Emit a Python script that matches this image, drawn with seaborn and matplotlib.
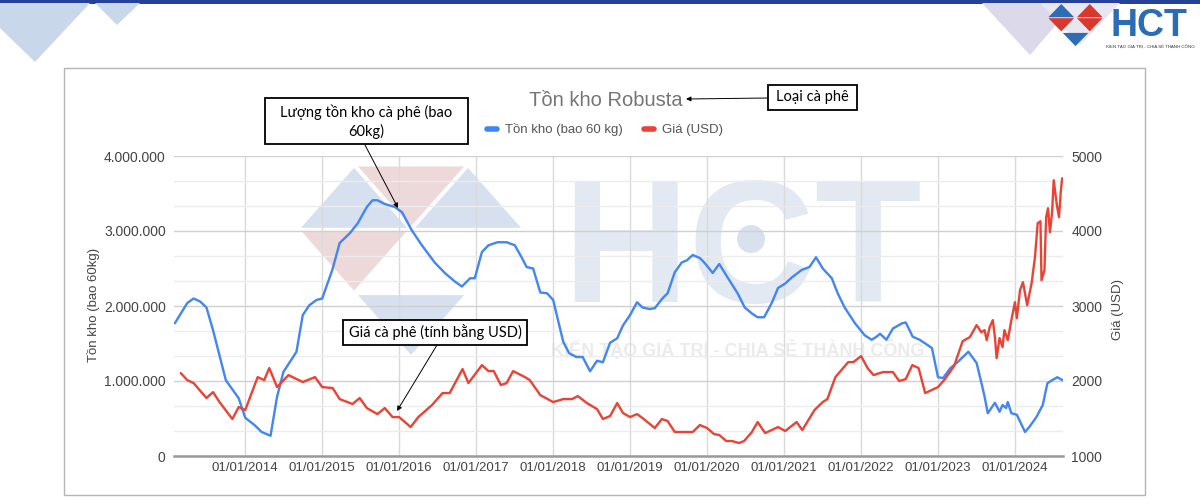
import numpy as np
import pandas as pd
import matplotlib
matplotlib.use("Agg")
import matplotlib.pyplot as plt
import matplotlib.ticker as mticker
from matplotlib.patches import Polygon, Rectangle, Circle
from matplotlib.lines import Line2D
import seaborn as sns

# ---------------- data ----------------
stock_dates = [
    "2013-02-01", "2013-04-01", "2013-05-01", "2013-06-01", "2013-07-01", "2013-08-01",
    "2013-10-01", "2013-12-01", "2014-01-01", "2014-02-15", "2014-03-20", "2014-05-01",
    "2014-06-01", "2014-07-01", "2014-09-01", "2014-10-01", "2014-11-01", "2014-12-05",
    "2015-01-01", "2015-02-18", "2015-03-25", "2015-05-12", "2015-06-18", "2015-08-01",
    "2015-08-28", "2015-09-20", "2015-10-25", "2015-12-12", "2016-01-15", "2016-03-01",
    "2016-04-18", "2016-06-18", "2016-08-05", "2016-09-20", "2016-10-25", "2016-12-03",
    "2016-12-25", "2017-01-28", "2017-02-28", "2017-04-12", "2017-05-25", "2017-07-03",
    "2017-08-06", "2017-08-28", "2017-09-28", "2017-11-01", "2017-12-03", "2018-01-01",
    "2018-02-18", "2018-03-18", "2018-04-21", "2018-05-21", "2018-06-25", "2018-07-28",
    "2018-08-25", "2018-09-28", "2018-11-01", "2018-11-28", "2019-01-01", "2019-02-03",
    "2019-03-01", "2019-04-03", "2019-04-28", "2019-06-03", "2019-06-28", "2019-08-01",
    "2019-09-03", "2019-09-28", "2019-10-25", "2019-11-28", "2019-12-22", "2020-01-28",
    "2020-02-28", "2020-04-10", "2020-05-25", "2020-06-28", "2020-08-01", "2020-08-28",
    "2020-09-28", "2020-11-03", "2020-12-03", "2021-01-06", "2021-02-06", "2021-03-25",
    "2021-05-01", "2021-06-01", "2021-07-03", "2021-08-15", "2021-09-12", "2021-10-15",
    "2021-12-03", "2022-01-18", "2022-02-20", "2022-03-15", "2022-04-01", "2022-05-01",
    "2022-06-01", "2022-07-15", "2022-08-01", "2022-09-03", "2022-10-06", "2022-12-03",
    "2023-01-01", "2023-01-25", "2023-02-28", "2023-04-03", "2023-05-25", "2023-07-03",
    "2023-07-28", "2023-08-10", "2023-08-25", "2023-09-28", "2023-10-20", "2023-11-03",
    "2023-11-20", "2023-11-28", "2023-12-15", "2024-01-10", "2024-02-18", "2024-03-10",
    "2024-04-12", "2024-05-12", "2024-06-03", "2024-06-25", "2024-07-20", "2024-08-15",
]
stock_values = [
    1770000, 2040000, 2100000, 2060000, 1980000, 1680000,
    1010000, 770000, 510000, 410000, 320000, 270000,
    790000, 1120000, 1390000, 1880000, 2010000, 2080000,
    2100000, 2480000, 2840000, 2970000, 3100000, 3320000,
    3410000, 3410000, 3360000, 3320000, 3250000, 3010000,
    2810000, 2580000, 2440000, 2330000, 2260000, 2370000,
    2370000, 2720000, 2810000, 2850000, 2850000, 2810000,
    2640000, 2520000, 2500000, 2180000, 2170000, 2080000,
    1520000, 1370000, 1320000, 1320000, 1130000, 1270000,
    1250000, 1510000, 1570000, 1740000, 1880000, 2050000,
    1980000, 1960000, 1970000, 2100000, 2170000, 2450000,
    2580000, 2610000, 2680000, 2640000, 2570000, 2440000,
    2560000, 2370000, 2170000, 1980000, 1900000, 1850000,
    1850000, 2040000, 2240000, 2300000, 2380000, 2480000,
    2520000, 2650000, 2500000, 2370000, 2170000, 1980000,
    1770000, 1610000, 1550000, 1590000, 1630000, 1550000,
    1700000, 1770000, 1780000, 1590000, 1550000, 1440000,
    1050000, 1040000, 1170000, 1250000, 1390000, 1240000,
    950000, 790000, 570000, 710000, 590000, 680000,
    640000, 720000, 570000, 550000, 320000, 390000,
    520000, 680000, 970000, 1010000, 1050000, 1010000,
]

price_dates = [
    "2013-03-01", "2013-04-01", "2013-05-01", "2013-07-01", "2013-08-01", "2013-09-01",
    "2013-11-01", "2013-12-01", "2014-01-01", "2014-03-01", "2014-04-01", "2014-04-25",
    "2014-06-01", "2014-07-25", "2014-10-01", "2014-11-28", "2015-01-01", "2015-02-20",
    "2015-03-25", "2015-05-12", "2015-05-25", "2015-06-28", "2015-08-01", "2015-09-20",
    "2015-10-25", "2015-12-01", "2016-01-01", "2016-02-25", "2016-04-01", "2016-06-05",
    "2016-07-25", "2016-08-28", "2016-10-28", "2016-11-25", "2017-01-28", "2017-02-28",
    "2017-03-25", "2017-04-28", "2017-05-25", "2017-06-25", "2017-08-20", "2017-09-12",
    "2017-11-01", "2018-01-01", "2018-02-18", "2018-04-01", "2018-04-28", "2018-06-10",
    "2018-07-28", "2018-08-25", "2018-09-28", "2018-11-01", "2018-11-28", "2019-01-01",
    "2019-02-03", "2019-03-01", "2019-04-28", "2019-06-01", "2019-06-28", "2019-08-01",
    "2019-10-25", "2019-11-28", "2020-01-01", "2020-02-03", "2020-02-28", "2020-04-01",
    "2020-04-28", "2020-06-01", "2020-06-25", "2020-08-01", "2020-08-28", "2020-10-03",
    "2020-12-03", "2021-01-06", "2021-03-01", "2021-03-28", "2021-05-25", "2021-07-03",
    "2021-07-25", "2021-09-01", "2021-11-01", "2021-11-25", "2022-01-01", "2022-02-01",
    "2022-03-01", "2022-04-15", "2022-06-01", "2022-07-01", "2022-08-01", "2022-09-01",
    "2022-10-01", "2022-11-01", "2023-01-01", "2023-02-03", "2023-03-18", "2023-04-28",
    "2023-06-01", "2023-07-03", "2023-07-25", "2023-08-10", "2023-08-20", "2023-09-03",
    "2023-09-18", "2023-09-28", "2023-10-06", "2023-10-20", "2023-11-03", "2023-11-12",
    "2023-11-28", "2023-12-15", "2024-01-01", "2024-01-10", "2024-01-25", "2024-02-08",
    "2024-02-28", "2024-03-20", "2024-04-05", "2024-04-18", "2024-05-01", "2024-05-06",
    "2024-05-20", "2024-05-28", "2024-06-06", "2024-06-15", "2024-06-25", "2024-07-03",
    "2024-07-18", "2024-07-28", "2024-08-06", "2024-08-12",
]
price_values = [
    2106, 2012, 1972, 1773, 1852, 1719,
    1493, 1653, 1613, 2052, 2012, 2172,
    1919, 2079, 1986, 2052, 1919, 1906,
    1759, 1706, 1693, 1773, 1639, 1559,
    1639, 1519, 1519, 1386, 1519, 1679,
    1839, 1839, 2159, 1972, 2212, 2132,
    2132, 1946, 1972, 2132, 2052, 2012,
    1812, 1719, 1759, 1759, 1799, 1706,
    1626, 1493, 1533, 1706, 1573, 1519,
    1559, 1506, 1373, 1493, 1466, 1320,
    1320, 1413, 1373, 1293, 1280, 1200,
    1200, 1173, 1200, 1320, 1453, 1306,
    1386, 1333, 1453, 1346, 1613, 1719,
    1759, 2052, 2252, 2252, 2332, 2172,
    2079, 2119, 2119, 1999, 2026, 2212,
    2172, 1839, 1919, 2026, 2199, 2532,
    2585, 2745, 2652, 2678, 2545, 2718,
    2812, 2585, 2305, 2572, 2452, 2678,
    2545, 2812, 3051, 2838, 3211, 3318,
    3011, 3304, 3651, 4104, 4130, 3344,
    3478, 4184, 4303, 3984, 4237, 4676,
    4343, 4184, 4543, 4703,
]

x_tick_dates = ["2014-01-01", "2015-01-01", "2016-01-01", "2017-01-01", "2018-01-01",
                "2019-01-01", "2020-01-01", "2021-01-01", "2022-01-01", "2023-01-01",
                "2024-01-01"]
left_ticks = [0, 1000000, 2000000, 3000000, 4000000]
right_ticks = [1000, 2000, 3000, 4000, 5000]

title_text = "Tồn kho Robusta"
stock_label = "Tồn kho (bao 60 kg)"
price_label = "Giá (USD)"
left_axis_label = "Tồn kho (bao 60kg)"
right_axis_label = "Giá (USD)"
note_stock = "Lượng tồn kho cà phê (bao\n60kg)"
note_price = "Giá cà phê (tính bằng USD)"
note_title = "Loại cà phê"
brand = "HCT"
tagline = "KIẾN TẠO GIÁ TRỊ - CHIA SẺ THÀNH CÔNG"

stock_df = pd.DataFrame({"date": pd.to_datetime(stock_dates), "value": stock_values})
price_df = pd.DataFrame({"date": pd.to_datetime(price_dates), "value": price_values})

# ---------------- style ----------------
sns.set_theme(style="white")
plt.rcParams['font.family'] = ['Liberation Sans', 'DejaVu Sans']

BLUE = "#4285F4"
RED = "#EA4335"

fig = plt.figure(figsize=(12, 5), dpi=100)
fig.patch.set_facecolor("white")

# background layer in pixel coordinates
bg = fig.add_axes([0, 0, 1, 1], zorder=-5)
bg.set_xlim(0, 1200)
bg.set_ylim(500, 0)
bg.axis("off")

bg.add_patch(Rectangle((0, 0), 1200, 4, color="#25419a", lw=0))
bg.add_patch(Polygon([(0, 3), (90, 3), (35, 62), (0, 28)], closed=True, color="#c9d7eb", lw=0))
bg.add_patch(Polygon([(95, 3), (140, 3), (117, 25)], closed=True, color="#c9d7eb", lw=0))
bg.add_patch(Polygon([(982, 3), (1075, 3), (1030, 55)], closed=True, color="#dcd9ea", lw=0))
bg.add_patch(Polygon([(1040, 3), (1120, 3), (1080, 45)], closed=True, color="#e8e6f1", lw=0))
bg.add_patch(Rectangle((64, 68), 1081, 427, fill=False, ec="#b5b5b5", lw=1))


def shrink(pts, f=0.9):
    pts = np.asarray(pts, dtype=float)
    c = pts.mean(axis=0)
    return c + (pts - c) * f


def draw_logo(axis, x0, y0, sx, sy, cols, alpha=1.0, shrink_f=0.9, z=1):
    tris = [
        ([(0, 1), (1, 0), (2, 1)], cols[0]),
        ([(1, 0), (3, 0), (2, 1)], cols[1]),
        ([(2, 1), (3, 0), (4, 1)], cols[2]),
        ([(0, 1), (2, 1), (1, 2)], cols[3]),
        ([(2, 1), (4, 1), (3, 2)], cols[4]),
        ([(1, 2), (3, 2), (2, 3)], cols[5]),
    ]
    for pts, col in tris:
        if col is None:
            continue
        p = shrink(pts, shrink_f)
        p[:, 0] = x0 + p[:, 0] * sx
        p[:, 1] = y0 + p[:, 1] * sy
        axis.add_patch(Polygon(p, closed=True, color=col, lw=0, alpha=alpha, zorder=z))


# watermark
WB, WP = "#d6e0ee", "#eed9da"
draw_logo(bg, 297, 165, 57, 64.3, [WB, WP, WB, WP, None, WB], alpha=1.0, shrink_f=0.93)
bg.text(742, 302, brand, ha="center", va="baseline", fontsize=126, fontweight="bold",
        color="#e3e9f2", family="Liberation Sans")
bg.add_patch(Circle((751, 239), 14, color="#d9e1ec", lw=0))
bg.text(738, 350, tagline, ha="center", va="center", fontsize=13, color="#ebebeb",
        fontweight="bold", family="Liberation Sans")

# top-right logo
ov = fig.add_axes([0, 0, 1, 1], zorder=10)
ov.set_xlim(0, 1200)
ov.set_ylim(500, 0)
ov.axis("off")
ov.patch.set_alpha(0)
draw_logo(ov, 1047, 3, 14.25, 14.7, ["#2e6db4", None, "#d9382f", "#d9382f", "#d9382f", "#2e6db4"],
          shrink_f=0.9)
ov.text(1149, 36, brand, ha="center", va="baseline", fontsize=27, fontweight="bold",
        color="#2a6cb6", family="Liberation Sans")
ov.text(1150, 47.5, tagline, ha="center", va="center", fontsize=3.2, color="#333333")

# ---------------- chart ----------------
ax = fig.add_axes([174 / 1200, 44 / 500, 889 / 1200, 300 / 500])
ax.patch.set_alpha(0)
ax2 = ax.twinx()
ax2.patch.set_alpha(0)

sns.lineplot(data=stock_df, x="date", y="value", ax=ax, color=BLUE, lw=1.7, legend=False)
sns.lineplot(data=price_df, x="date", y="value", ax=ax2, color=RED, lw=1.7, legend=False)

ax.set_xlim(pd.Timestamp("2013-01-28"), pd.Timestamp("2024-08-16"))
ax.set_ylim(0, 4000000)
ax2.set_ylim(1000, 5000)

ax.set_yticks(left_ticks)
ax.yaxis.set_major_formatter(mticker.FuncFormatter(lambda v, p: f"{int(v):,}".replace(",", ".")))
ax.yaxis.set_minor_locator(mticker.MultipleLocator(4000000 / 12))
ax2.set_yticks(right_ticks)
ax2.yaxis.set_major_formatter(mticker.FuncFormatter(lambda v, p: f"{int(v)}"))

xt = pd.to_datetime(x_tick_dates)
ax.set_xticks(xt)
ax.set_xticklabels([d.strftime("%d/%m/%Y") for d in xt])

ax.grid(which="major", axis="y", color="#d0d0d0", lw=1)
ax.grid(which="minor", axis="y", color="#ececec", lw=1)
ax.grid(which="major", axis="x", color="#dadada", lw=1)
ax.set_axisbelow(True)
ax2.grid(False)

for s in ["top", "left", "right"]:
    ax.spines[s].set_visible(False)
    ax2.spines[s].set_visible(False)
ax.spines["bottom"].set_color("#9a9a9a")
ax.spines["bottom"].set_linewidth(1.8)
ax2.spines["bottom"].set_visible(False)

ax.tick_params(axis="both", which="both", length=0)
ax2.tick_params(axis="both", which="both", length=0)
ax.tick_params(axis="y", labelsize=10, labelcolor="#444444", pad=6)
ax.tick_params(axis="x", labelsize=9.5, labelcolor="#444444", pad=4)
ax2.tick_params(axis="y", labelsize=10, labelcolor="#444444", pad=6)
ax.set_xlabel("")
ax.set_ylabel("")
ax2.set_ylabel("")

fig.text(93 / 1200, 1 - 305 / 500, left_axis_label, rotation=90, ha="center", va="center",
         fontsize=9.5, color="#444444")
fig.text(1118 / 1200, 1 - 310 / 500, right_axis_label, rotation=90, ha="center", va="center",
         fontsize=9.5, color="#444444")

fig.text(606 / 1200, 1 - 100 / 500, title_text, ha="center", va="center", fontsize=14.5,
         color="#757575")
handles = [Line2D([0], [0], color=BLUE, lw=4), Line2D([0], [0], color=RED, lw=4)]
fig.legend(handles, [stock_label, price_label], loc="center",
           bbox_to_anchor=(605 / 1200, 1 - 130 / 500), ncol=2, frameon=False, fontsize=9.5,
           handlelength=0.8, handletextpad=0.6, columnspacing=1.6, labelcolor="#555555")

# ---------------- annotations ----------------
NOTE_FONT = ["Lato", "DejaVu Sans"]
ov.add_patch(Rectangle((265, 98), 203, 46, facecolor="white", edgecolor="black", lw=1.3, zorder=3))
ov.text(366.5, 121.5, note_stock, ha="center", va="center", fontsize=10.5, family=NOTE_FONT,
        linespacing=1.3, color="black", zorder=4)
ov.add_patch(Rectangle((343, 320), 184, 25, facecolor="white", edgecolor="black", lw=1.3, zorder=3))
ov.text(435, 332.5, note_price, ha="center", va="center", fontsize=10.5, family=NOTE_FONT,
        color="black", zorder=4)
ov.add_patch(Rectangle((768, 85), 89, 25, facecolor="white", edgecolor="black", lw=1.3, zorder=3))
ov.text(812.5, 97.5, note_title, ha="center", va="center", fontsize=10.5, family=NOTE_FONT,
        color="black", zorder=4)

arrow = dict(arrowstyle="-|>", color="black", lw=0.7, mutation_scale=7, shrinkA=0, shrinkB=0)
ov.annotate("", xy=(398, 208), xytext=(365, 145), arrowprops=arrow)
ov.annotate("", xy=(397, 411), xytext=(437, 345), arrowprops=arrow)
ov.annotate("", xy=(686, 99), xytext=(768, 98), arrowprops=arrow)

fig.savefig("out.png", dpi=100)
